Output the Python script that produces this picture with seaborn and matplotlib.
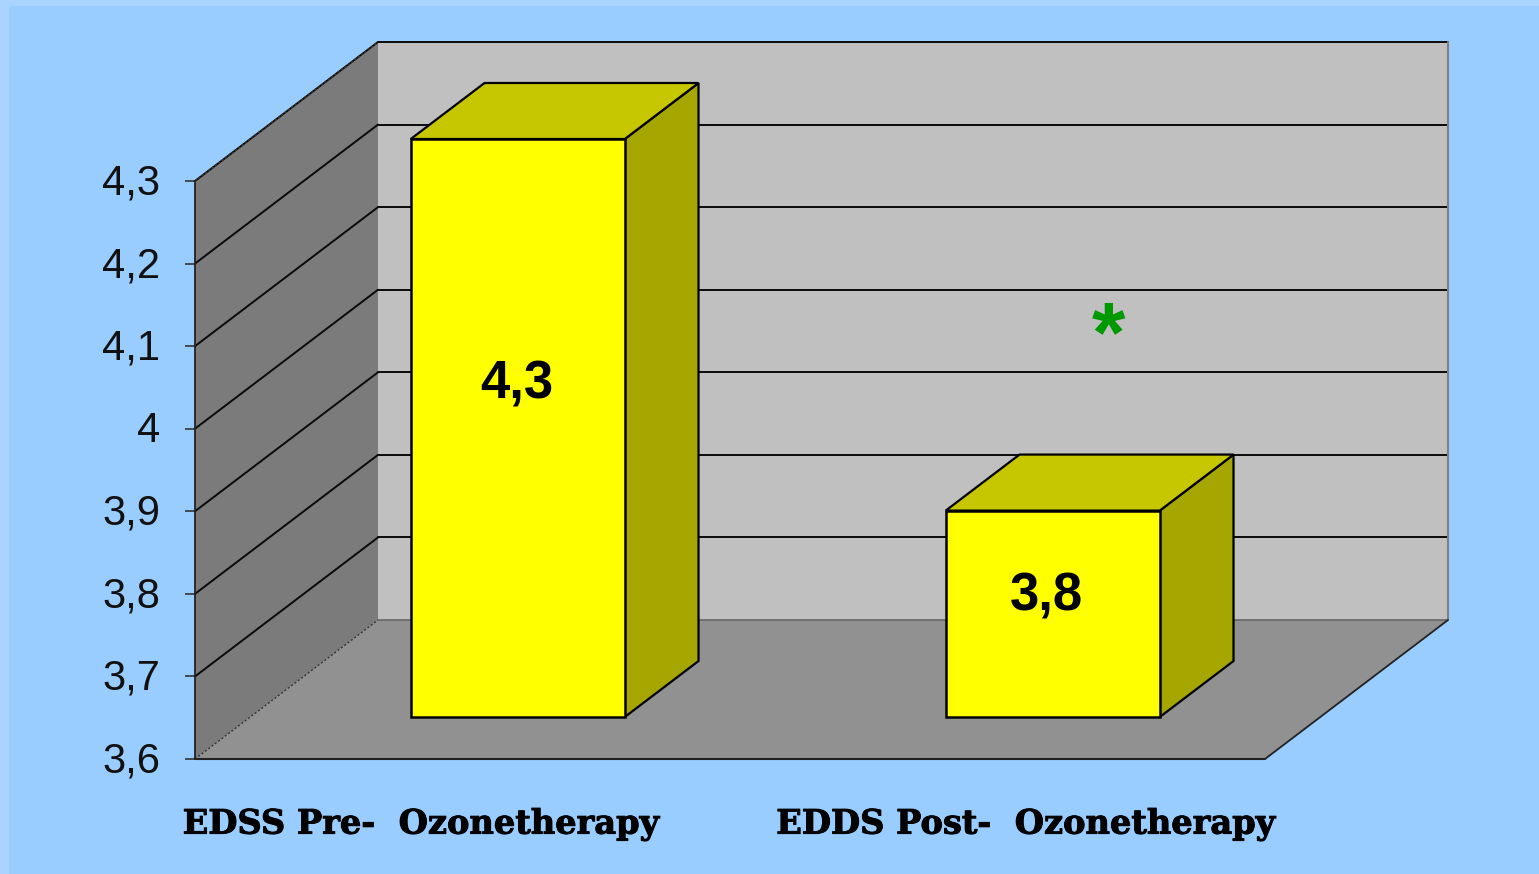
import numpy as np
import matplotlib
matplotlib.use("Agg")
import matplotlib.pyplot as plt
import matplotlib.patheffects as pe
from matplotlib.patches import Polygon, Rectangle
from matplotlib.transforms import IdentityTransform, ScaledTranslation
import seaborn as sns

categories = ["EDSS Pre-  Ozonetherapy", "EDDS Post-  Ozonetherapy"]
bar_heights = [4.3, 3.85]
bar_labels = ["4,3", "3,8"]
y_ticks = [3.6, 3.7, 3.8, 3.9, 4.0, 4.1, 4.2, 4.3]
y_tick_labels = ["3,6", "3,7", "3,8", "3,9", "4", "4,1", "4,2", "4,3"]

W, H = 1539, 874
DEPTH = np.array([183.0, 139.0])
BAR_FLOOR = 42.0 / 139.0
BAR_DEPTH = 56.0 / 139.0

sns.set_theme(style="white")
plt.rcParams["font.family"] = ["Liberation Sans", "DejaVu Sans"]

fig = plt.figure(figsize=(W / 100, H / 100), dpi=100, facecolor="#AAD4FF")
fig.patches.append(Rectangle((9 / W, 0), 1, 1 - 6 / H, transform=fig.transFigure,
                             facecolor="#99CCFF", edgecolor="none", zorder=0))


def pos(left, right, top, bottom):
    return [left / W, 1 - bottom / H, (right - left) / W, (bottom - top) / H]


wall = fig.add_axes(pos(195, 1265, 181, 759), zorder=1)
wall.set_xlim(-0.5, 1.5)
wall.set_ylim(y_ticks[0], y_ticks[-1])
wall.patch.set_visible(False)
sns.despine(ax=wall, left=True, bottom=True, right=True, top=True)

front = fig.add_axes(pos(195 + DEPTH[0] * BAR_FLOOR, 1265 + DEPTH[0] * BAR_FLOOR, 139, 717), zorder=2)
front.patch.set_visible(False)


def project(ax, x, y, d):
    return ax.transData.transform((x, y)) + d * DEPTH


def face(ax, corners, **kw):
    pts = [project(ax, *c) for c in corners]
    ax.add_patch(Polygon(pts, closed=True, transform=IdentityTransform(), clip_on=False, **kw))


def seg(ax, a, b, **kw):
    p, q = project(ax, *a), project(ax, *b)
    ax.plot([p[0], q[0]], [p[1], q[1]], transform=IdentityTransform(), clip_on=False, **kw)


x0, x1 = wall.get_xlim()
y0, y1 = wall.get_ylim()

face(wall, [(x0, y0, 1), (x1, y0, 1), (x1, y1, 1), (x0, y1, 1)], facecolor="#C0C0C0", edgecolor="none", zorder=1)
face(wall, [(x0, y0, 0), (x0, y0, 1), (x0, y1, 1), (x0, y1, 0)], facecolor="#7B7B7B", edgecolor="none", zorder=1)
face(wall, [(x0, y0, 0), (x1, y0, 0), (x1, y0, 1), (x0, y0, 1)], facecolor="#919191", edgecolor="none", zorder=1)

for t in y_ticks[1:]:
    seg(wall, (x0, t, 0), (x0, t, 1), color="#0A0A0A", lw=1.4, zorder=2)
    seg(wall, (x0, t, 1), (x1, t, 1), color="#0A0A0A", lw=1.4, zorder=2)
seg(wall, (x0, y1, 0), (x0, y1, 1), color="#333333", lw=1.2, ls=(0, (1.5, 1)), zorder=2)
seg(wall, (x0, y0, 0), (x0, y0, 1), color="#333333", lw=1.0, ls=(0, (1.5, 1.5)), zorder=2)
seg(wall, (x0, y0, 1), (x1, y0, 1), color="#666666", lw=1.2, zorder=2)
seg(wall, (x1, y0, 1), (x1, y1, 1), color="#808080", lw=1.5, zorder=2)
seg(wall, (x0, y0, 0), (x1, y0, 0), color="#222222", lw=1.5, zorder=3)
seg(wall, (x1, y0, 0), (x1, y0, 1), color="#222222", lw=1.3, zorder=3)
seg(wall, (x0, y0, 0), (x0, y1, 0), color="#222222", lw=1.3, zorder=3)

wall.set_yticks(y_ticks, y_tick_labels)
wall.tick_params(axis="y", left=True, length=7.2, width=1.2, color="#333333", pad=18,
                 labelsize=30, labelcolor="#111111")
shift = ScaledTranslation(0, 2 / 100, fig.dpi_scale_trans)
for lab in wall.get_yticklabels():
    lab.set_transform(lab.get_transform() + shift)
wall.set_xticks([-0.0776, 1.053], categories)
wall.tick_params(axis="x", bottom=False, length=0, pad=35, labelsize=24.2, labelcolor="black")
for lab in wall.get_xticklabels():
    lab.set_fontfamily("DejaVu Serif")
    lab.set_fontweight("bold")
    lab.set_path_effects([pe.withStroke(linewidth=0.7, foreground="black")])

sns.barplot(x=categories, y=bar_heights, ax=front, color="#FFFF00", saturation=1,
            width=0.4, edgecolor="black", linewidth=1.8, zorder=4)
front.set_xlim(-0.5, 1.5)
front.set_ylim(y_ticks[0], y_ticks[-1])
front.set_xticks([])
front.set_yticks([])
front.set_xlabel("")
front.set_ylabel("")
sns.despine(ax=front, left=True, bottom=True, right=True, top=True)

for bar, value in zip(front.patches, bar_heights):
    bar.set_y(y_ticks[0])
    bar.set_height(value - y_ticks[0])
    bar.set_clip_on(False)
    l, r = bar.get_x(), bar.get_x() + bar.get_width()
    face(front, [(r, y_ticks[0], 0), (r, y_ticks[0], BAR_DEPTH), (r, value, BAR_DEPTH), (r, value, 0)],
         facecolor="#A6A600", edgecolor="black", linewidth=1.6, zorder=3)
    face(front, [(l, value, 0), (r, value, 0), (r, value, BAR_DEPTH), (l, value, BAR_DEPTH)],
         facecolor="#C7C700", edgecolor="black", linewidth=1.6, zorder=3)

label_pos = [(-0.002, 4.003), (0.989, 3.746)]
for (lx, ly), text in zip(label_pos, bar_labels):
    front.text(lx, ly, text, ha="center", va="center", fontsize=38, fontweight="bold",
               color="black", zorder=6)

front.text(1.105, 4.057, "*", ha="center", va="center", fontsize=62, fontweight="bold",
           color="#009900", zorder=6)

fig.savefig("out.png", dpi=100, facecolor=fig.get_facecolor())
